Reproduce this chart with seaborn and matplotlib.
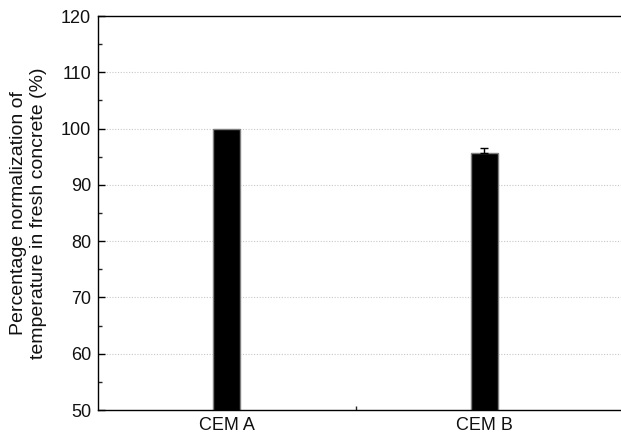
import matplotlib
matplotlib.use("Agg")
import matplotlib.pyplot as plt
import seaborn as sns
import pandas as pd
from matplotlib.ticker import MultipleLocator

categories = ["CEM A", "CEM B"]
values = [100.0, 95.6]
errors = [0.0, 0.9]
ylabel_text = "Percentage normalization of\ntemperature in fresh concrete (%)"

sns.set_theme(style="ticks")
plt.rcParams['font.family'] = ['Liberation Sans', 'DejaVu Sans']

df = pd.DataFrame({"cat": categories, "val": values})

fig = plt.figure(figsize=(6.21, 4.36), dpi=100)
ax = fig.add_axes([98/621, 1 - 410/436, (621-98)/621, (410-16)/436])

sns.barplot(data=df, x="cat", y="val", ax=ax, color="black", width=0.105,
            edgecolor="#7f7f7f", linewidth=1.0, saturation=1)
idx = [i for i, e in enumerate(errors) if e > 0]
ax.errorbar(idx, [values[i] for i in idx], yerr=[[0]*len(idx), [errors[i] for i in idx]],
            fmt="none", ecolor="black", elinewidth=1.0, capsize=3, capthick=1.0)

ax.set_ylim(50, 120)
ax.set_xlim(-0.5, 1.53)
ax.yaxis.set_major_locator(MultipleLocator(10))
ax.yaxis.set_minor_locator(MultipleLocator(5))
ax.set_xticks([0, 1])
ax.set_xticks([0.5], minor=True)
ax.set_xticklabels(categories)
ax.tick_params(axis="both", which="major", direction="in", length=5, width=1,
               labelsize=13, colors="black", labelcolor="#111111")
ax.tick_params(axis="x", which="major", length=0, pad=5)
ax.tick_params(axis="both", which="minor", direction="in", length=3, width=1)
ax.tick_params(axis="y", which="major", pad=5)

for y in range(60, 120, 10):
    ax.axhline(y, color="#c8c8c8", linestyle=(0, (1, 1.5)), linewidth=0.8, zorder=0)

for s in ["left", "bottom", "top"]:
    ax.spines[s].set_color("black")
    ax.spines[s].set_linewidth(1.0)
ax.spines["right"].set_visible(False)

ax.set_xlabel("")
ax.set_ylabel(ylabel_text, fontsize=14, color="#111111", labelpad=10, linespacing=1.2)

fig.savefig("out.png", dpi=100)
